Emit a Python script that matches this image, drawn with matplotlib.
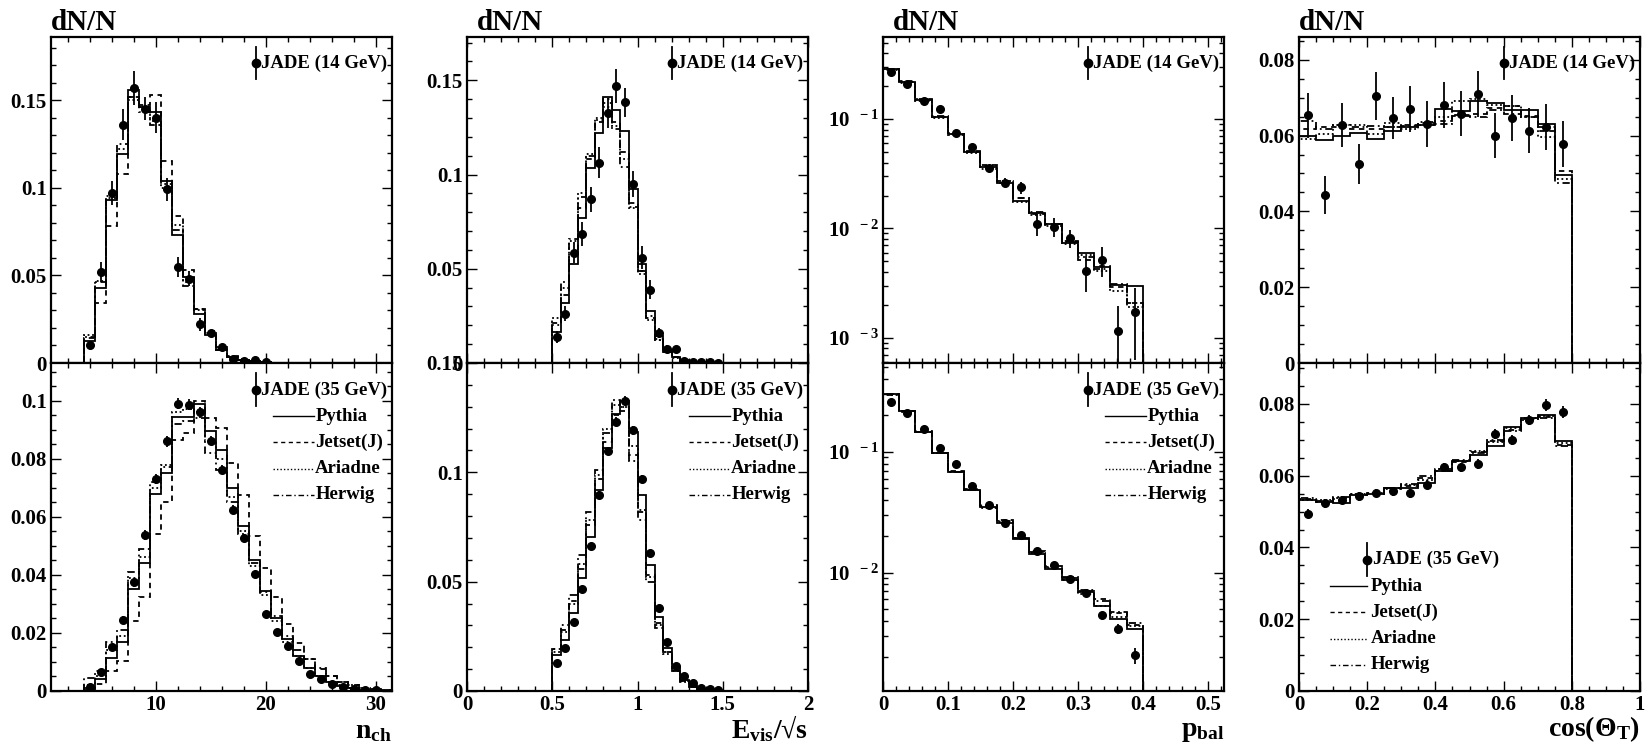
import numpy as np
import matplotlib
matplotlib.use("Agg")
import matplotlib.pyplot as plt
from matplotlib.ticker import MultipleLocator, FuncFormatter, LogLocator, NullFormatter

plt.rcParams['font.family'] = ['Liberation Serif', 'DejaVu Serif']
plt.rcParams['font.weight'] = 'bold'
plt.rcParams['mathtext.fontset'] = 'custom'
plt.rcParams['mathtext.rm'] = 'Liberation Serif:bold'
plt.rcParams['mathtext.it'] = 'Liberation Serif:bold'
plt.rcParams['mathtext.bf'] = 'Liberation Serif:bold'
plt.rcParams['mathtext.default'] = 'rm'

models = ['Pythia', 'Jetset(J)', 'Ariadne', 'Herwig']

# ---------------- n_ch ----------------
nch_edges14 = np.arange(3.5, 23.5, 1.0)
nch_pyth14 = [0.0123, 0.0426, 0.0928, 0.119, 0.156, 0.146, 0.143, 0.104, 0.073, 0.049,
              0.028, 0.016, 0.0076, 0.0034, 0.0019, 0.001, 0.0004, 0.0002, 0.0001]
nch_jet14 = [0.014, 0.034, 0.078, 0.108, 0.152, 0.147, 0.153, 0.115, 0.084, 0.053,
             0.031, 0.018, 0.009, 0.004, 0.002, 0.001, 0.0005, 0.0002, 0.0001]
nch_ari14 = [0.016, 0.047, 0.095, 0.122, 0.150, 0.146, 0.138, 0.100, 0.079, 0.046,
             0.030, 0.017, 0.008, 0.0035, 0.0018, 0.0009, 0.0004, 0.0002, 0.0001]
nch_her14 = [0.015, 0.046, 0.094, 0.125, 0.152, 0.143, 0.136, 0.102, 0.076, 0.044,
             0.031, 0.016, 0.0075, 0.0035, 0.0018, 0.0008, 0.0004, 0.0002, 0.0001]
nch_x14 = np.arange(4, 21)
nch_d14 = [0.0104, 0.052, 0.097, 0.136, 0.157, 0.145, 0.140, 0.099, 0.055, 0.048,
           0.022, 0.017, 0.009, 0.0025, 0.0013, 0.0015, 0.0008]
nch_e14 = [0.002, 0.0057, 0.0066, 0.0088, 0.0097, 0.0066, 0.009, 0.0063, 0.0057, 0.0043,
           0.0038, 0.002, 0.0015, 0.001, 0.0008, 0.0008, 0.0006]

nch_edges35 = np.arange(3.5, 32.5, 1.0)
nch_pyth35 = [0.001, 0.004, 0.0115, 0.017, 0.035, 0.044, 0.068, 0.075, 0.0945, 0.0943,
              0.099, 0.0896, 0.083, 0.0698, 0.057, 0.045, 0.0344, 0.025, 0.018, 0.012,
              0.008, 0.0053, 0.0032, 0.0018, 0.0009, 0.0005, 0.0002, 0.0001]
nch_jet35 = [0.0005, 0.0025, 0.007, 0.0105, 0.024, 0.0325, 0.054, 0.065, 0.0865, 0.089,
             0.1, 0.094, 0.0905, 0.0785, 0.0675, 0.0535, 0.0425, 0.0325, 0.023, 0.0165,
             0.011, 0.0075, 0.005, 0.003, 0.002, 0.001, 0.0006, 0.0003]
nch_ari35 = [0.002, 0.005, 0.014, 0.019, 0.039, 0.046, 0.07, 0.078, 0.096, 0.097,
             0.096, 0.086, 0.08, 0.067, 0.055, 0.043, 0.033, 0.024, 0.017, 0.012,
             0.008, 0.005, 0.003, 0.002, 0.001, 0.0005, 0.0002, 0.0001]
nch_her35 = [0.0045, 0.007, 0.017, 0.021, 0.041, 0.049, 0.072, 0.077, 0.092, 0.093,
             0.094, 0.082, 0.076, 0.065, 0.054, 0.044, 0.034, 0.026, 0.019, 0.014,
             0.011, 0.008, 0.005, 0.003, 0.002, 0.001, 0.0005, 0.0002]
nch_x35 = np.arange(4, 31)
nch_d35 = [0.0013, 0.0064, 0.0153, 0.0245, 0.0375, 0.0537, 0.073, 0.086, 0.099, 0.0987,
           0.096, 0.0863, 0.0763, 0.0625, 0.0526, 0.0403, 0.0264, 0.0204, 0.0156, 0.0102,
           0.0059, 0.004, 0.0023, 0.0015, 0.0006, 0.0003, 0.0002]
nch_e35 = [0.0005, 0.0008, 0.001, 0.0012, 0.0015, 0.0017, 0.0018, 0.0019, 0.0019, 0.0019,
           0.0018, 0.0017, 0.0016, 0.0015, 0.0014, 0.0012, 0.0011, 0.001, 0.0009, 0.0008,
           0.0006, 0.0005, 0.0004, 0.0003, 0.0002, 0.0002, 0.0001]

# ---------------- E_vis / sqrt(s) ----------------
evis_edges = np.linspace(0.5, 1.5, 21)
evis_x = np.linspace(0.525, 1.475, 20)
evis_pyth14 = [0.0167, 0.032, 0.0527, 0.0771, 0.1037, 0.1218, 0.141, 0.134, 0.1229, 0.0926,
               0.0527, 0.0278, 0.0145, 0.0071, 0.0032, 0.0014, 0.0007, 0.0004, 0.0002, 0.0001]
evis_jet14 = [0.021, 0.036, 0.058, 0.082, 0.108, 0.128, 0.138, 0.128, 0.112, 0.085,
              0.049, 0.024, 0.013, 0.006, 0.003, 0.0013, 0.0006, 0.0003, 0.0001, 0.0001]
evis_ari14 = [0.024, 0.040, 0.065, 0.090, 0.111, 0.130, 0.136, 0.126, 0.108, 0.082,
              0.047, 0.023, 0.012, 0.006, 0.0025, 0.0012, 0.0005, 0.0002, 0.0001, 0.0001]
evis_her14 = [0.020, 0.043, 0.066, 0.088, 0.110, 0.129, 0.140, 0.124, 0.104, 0.083,
              0.049, 0.025, 0.012, 0.006, 0.003, 0.0013, 0.0006, 0.0003, 0.0001, 0.0001]
evis_d14 = [0.0138, 0.0262, 0.0585, 0.0686, 0.0869, 0.1064, 0.1326, 0.1472, 0.1383, 0.0949,
            0.0559, 0.039, 0.016, 0.0074, 0.0074, 0.0009, 0.0005, 0.0005, 0.0004, 0.0001]
evis_e14 = [0.003, 0.004, 0.0055, 0.0064, 0.0066, 0.008, 0.008, 0.009, 0.0075, 0.007,
            0.006, 0.005, 0.0027, 0.002, 0.0015, 0.0005, 0.0005, 0.0005, 0.0004, 0.0001]

evis_pyth35 = [0.0166, 0.0232, 0.0357, 0.0518, 0.0706, 0.092, 0.1109, 0.1265, 0.1324, 0.1183,
               0.0897, 0.0577, 0.0339, 0.0196, 0.0104, 0.0051, 0.0023, 0.0009, 0.0003, 0.0001]
evis_jet35 = [0.019, 0.028, 0.041, 0.056, 0.076, 0.097, 0.114, 0.126, 0.128, 0.108,
              0.082, 0.053, 0.031, 0.018, 0.009, 0.0045, 0.002, 0.0008, 0.0003, 0.0001]
evis_ari35 = [0.018, 0.027, 0.040, 0.058, 0.078, 0.099, 0.120, 0.131, 0.130, 0.112,
              0.083, 0.052, 0.030, 0.017, 0.009, 0.004, 0.002, 0.0008, 0.0003, 0.0001]
evis_her35 = [0.019, 0.030, 0.044, 0.062, 0.082, 0.101, 0.118, 0.133, 0.130, 0.105,
              0.078, 0.050, 0.029, 0.018, 0.009, 0.0045, 0.002, 0.0008, 0.0003, 0.0001]
evis_d35 = [0.013, 0.0195, 0.0314, 0.0465, 0.0661, 0.0897, 0.1097, 0.1232, 0.1327, 0.1193,
            0.0968, 0.0629, 0.038, 0.0222, 0.0115, 0.0069, 0.0038, 0.0015, 0.0008, 0.0003]
evis_e35 = [0.0008, 0.001, 0.0012, 0.0014, 0.0016, 0.0018, 0.002, 0.002, 0.002, 0.002,
            0.0018, 0.0015, 0.0012, 0.001, 0.0008, 0.0006, 0.0005, 0.0003, 0.0002, 0.0001]

# ---------------- p_bal ----------------
pbal_edges = np.linspace(0.0, 0.4, 17)
pbal_x = np.linspace(0.0125, 0.3875, 16)
pbal_pyth14 = [0.286, 0.219, 0.149, 0.105, 0.0729, 0.0496, 0.0361, 0.0258, 0.0179, 0.0139,
               0.0109, 0.0073, 0.006, 0.0044, 0.00303, 0.00297]
pbal_jet14 = [0.284, 0.222, 0.151, 0.104, 0.074, 0.051, 0.038, 0.027, 0.0188, 0.0135,
              0.0107, 0.0076, 0.0052, 0.0045, 0.0029, 0.0021]
pbal_ari14 = [0.28, 0.215, 0.147, 0.103, 0.071, 0.049, 0.035, 0.026, 0.0175, 0.0132,
              0.0105, 0.0072, 0.0057, 0.0041, 0.0027, 0.0019]
pbal_her14 = [0.288, 0.22, 0.152, 0.106, 0.073, 0.05, 0.037, 0.027, 0.019, 0.014,
              0.011, 0.0075, 0.0055, 0.0043, 0.0031, 0.0021]
pbal_d14 = [0.271, 0.207, 0.147, 0.1225, 0.074, 0.0558, 0.0359, 0.0262, 0.0237, 0.011,
            0.0104, 0.0081, 0.0041, 0.0052, 0.00115, 0.00173]
pbal_e14 = [0.006, 0.006, 0.005, 0.005, 0.003, 0.003, 0.0025, 0.0025, 0.003, 0.0025,
            0.002, 0.0015, 0.0015, 0.0016, 0.0008, 0.0011]

pbal_pyth35 = [0.299, 0.217, 0.1465, 0.0969, 0.0674, 0.0481, 0.0346, 0.0255, 0.0189, 0.01436,
               0.0108, 0.00863, 0.00691, 0.00526, 0.00416, 0.00344]
pbal_jet35 = [0.296, 0.219, 0.148, 0.098, 0.069, 0.049, 0.036, 0.027, 0.0195, 0.0148,
              0.0112, 0.0090, 0.0070, 0.0060, 0.0046, 0.0037]
pbal_ari35 = [0.297, 0.215, 0.145, 0.097, 0.0685, 0.048, 0.0345, 0.026, 0.0192, 0.0145,
              0.011, 0.0087, 0.0067, 0.0053, 0.0043, 0.0036]
pbal_her35 = [0.301, 0.218, 0.147, 0.097, 0.0675, 0.0485, 0.0355, 0.0265, 0.0195, 0.015,
              0.0113, 0.0092, 0.0072, 0.0058, 0.0047, 0.0038]
pbal_d35 = [0.259, 0.21, 0.154, 0.108, 0.08, 0.0523, 0.0366, 0.0255, 0.0204, 0.0151,
            0.0116, 0.0088, 0.0068, 0.00443, 0.00343, 0.00206]
pbal_e35 = [0.006, 0.005, 0.004, 0.003, 0.002, 0.0015, 0.001, 0.0008, 0.0007, 0.0005,
            0.0004, 0.0004, 0.0003, 0.0003, 0.0003, 0.0003]

# ---------------- cos(theta_T) ----------------
cos_edges = np.linspace(0.0, 0.8, 17)
cos_x = np.linspace(0.025, 0.775, 16)
cos_pyth14 = [0.060, 0.0587, 0.060, 0.0607, 0.0591, 0.0611, 0.0622, 0.0627, 0.0671, 0.0665,
              0.069, 0.0687, 0.0668, 0.0668, 0.063, 0.0495]
cos_jet14 = [0.0618, 0.0623, 0.0623, 0.0617, 0.0617, 0.0623, 0.0628, 0.0632, 0.0638, 0.0653,
             0.0658, 0.0673, 0.0678, 0.0652, 0.0612, 0.0507]
cos_ari14 = [0.0592, 0.0603, 0.0628, 0.0628, 0.0605, 0.0632, 0.0617, 0.0628, 0.0648, 0.069,
             0.0696, 0.068, 0.0678, 0.0648, 0.0597, 0.0485]
cos_her14 = [0.0638, 0.0618, 0.0627, 0.0623, 0.0625, 0.0622, 0.0626, 0.0635, 0.063, 0.0651,
             0.065, 0.0668, 0.0658, 0.065, 0.0622, 0.0475]
cos_d14 = [0.0653, 0.0444, 0.0629, 0.0525, 0.0705, 0.0646, 0.067, 0.0631, 0.0681, 0.0658,
           0.0709, 0.060, 0.0646, 0.0613, 0.0622, 0.0578]
cos_e14 = [0.0059, 0.005, 0.0058, 0.0053, 0.0063, 0.0055, 0.006, 0.006, 0.006, 0.006,
           0.006, 0.006, 0.006, 0.006, 0.006, 0.006]

cos_pyth35 = [0.0531, 0.0528, 0.0523, 0.0546, 0.0549, 0.0566, 0.0566, 0.058, 0.0612, 0.0642,
              0.0658, 0.0683, 0.0736, 0.0762, 0.0769, 0.0697]
cos_jet35 = [0.0536, 0.0528, 0.0535, 0.0545, 0.0552, 0.0565, 0.0572, 0.0594, 0.0618, 0.0638,
             0.0665, 0.0697, 0.0728, 0.0755, 0.0763, 0.0686]
cos_ari35 = [0.0533, 0.0532, 0.0538, 0.0548, 0.0552, 0.0562, 0.0573, 0.0588, 0.0618, 0.064,
             0.0668, 0.0695, 0.0732, 0.0758, 0.0765, 0.069]
cos_her35 = [0.0538, 0.053, 0.054, 0.0549, 0.055, 0.0566, 0.0578, 0.0598, 0.0612, 0.0644,
             0.0662, 0.070, 0.0724, 0.0761, 0.076, 0.0682]
cos_d35 = [0.0494, 0.0523, 0.0532, 0.0542, 0.0552, 0.0556, 0.0551, 0.0575, 0.0623, 0.0623,
           0.0632, 0.0716, 0.0699, 0.0755, 0.0797, 0.0778]
cos_e35 = [0.0012, 0.0012, 0.0012, 0.0012, 0.0012, 0.0012, 0.0012, 0.0013, 0.0013, 0.0013,
           0.0014, 0.0014, 0.0014, 0.0015, 0.0016, 0.0016]

# line styles for the four generators
styles = ['-', (0, (3, 2.5)), (0, (1, 1.5)), (0, (4, 2, 1, 2))]
LW = 1.3
TICK_FS = 15
LEG_FS = 13.5


def fmt_lin(v, pos):
    return '%g' % round(v, 4)


def fmt_log(v, pos):
    e = int(round(np.log10(v)))
    return r'$10^{\ \ %d}$' % e


def draw(ax, edges, mc, x, y, err, log=False):
    base = 1e-7 if log else 0.0
    for vals, ls in zip(mc, styles):
        ax.stairs(vals, edges, baseline=base, color='k', lw=LW, linestyle=ls)
    ax.errorbar(x, y, yerr=err, fmt='o', color='k', ms=5.5, elinewidth=1.3, capsize=0)


def legend(ax, label, xm, ym, lx0=None, lx1=None, tx=None):
    # data entry: dot with a vertical bar
    ax.plot([xm, xm], [ym - 0.05, ym + 0.05], color='k', lw=1.3, transform=ax.transAxes)
    ax.plot([xm], [ym], 'o', color='k', ms=6, transform=ax.transAxes)
    ax.text(xm + 0.017, ym, label, transform=ax.transAxes, ha='left', va='center',
            fontsize=LEG_FS, fontweight='bold')
    if lx0 is None:
        return
    for i, (m, ls) in enumerate(zip(models, styles)):
        yy = ym - 0.080 * (i + 1)
        ax.plot([lx0, lx1], [yy, yy], color='k', lw=1.0, linestyle=ls,
                transform=ax.transAxes)
        ax.text(tx, yy, m, transform=ax.transAxes, ha='left', va='center',
                fontsize=LEG_FS, fontweight='bold')


fig = plt.figure(figsize=(16.5, 7.47), dpi=100)
W, H = 1650.0, 747.0
lefts = [51, 467, 883, 1299]
aw = 341 / W
top_b, top_h = 1 - 363 / H, (363 - 37) / H
bot_b, bot_h = 1 - 691 / H, (691 - 363) / H

panels = [
    dict(edges14=nch_edges14, mc14=[nch_pyth14, nch_jet14, nch_ari14, nch_her14],
         x14=nch_x14, d14=nch_d14, e14=nch_e14,
         edges35=nch_edges35, mc35=[nch_pyth35, nch_jet35, nch_ari35, nch_her35],
         x35=nch_x35, d35=nch_d35, e35=nch_e35,
         xlim=(0.5, 31.5), xmaj=10, xmin=2, ylim14=(0, 0.186), ylim35=(0, 0.113),
         ymaj14=0.05, ymin14=0.01, ymaj35=0.02, ymin35=0.005, log=False,
         xlabel=r'$n_{ch}$', dnx=0.0),
    dict(edges14=evis_edges, mc14=[evis_pyth14, evis_jet14, evis_ari14, evis_her14],
         x14=evis_x, d14=evis_d14, e14=evis_e14,
         edges35=evis_edges, mc35=[evis_pyth35, evis_jet35, evis_ari35, evis_her35],
         x35=evis_x, d35=evis_d35, e35=evis_e35,
         xlim=(0, 2), xmaj=0.5, xmin=0.1, ylim14=(0, 0.173), ylim35=(0, 0.15),
         ymaj14=0.05, ymin14=0.01, ymaj35=0.05, ymin35=0.01, log=False,
         xlabel=r'$E_{vis}$/√s', dnx=0.028),
    dict(edges14=pbal_edges, mc14=[pbal_pyth14, pbal_jet14, pbal_ari14, pbal_her14],
         x14=pbal_x, d14=pbal_d14, e14=pbal_e14,
         edges35=pbal_edges, mc35=[pbal_pyth35, pbal_jet35, pbal_ari35, pbal_her35],
         x35=pbal_x, d35=pbal_d35, e35=pbal_e35,
         xlim=(0, 0.525), xmaj=0.1, xmin=0.02, ylim14=(10 ** -3.23, 10 ** -0.25),
         ylim35=(10 ** -2.98, 10 ** -0.265), log=True,
         xlabel=r'$p_{bal}$', dnx=0.028),
    dict(edges14=cos_edges, mc14=[cos_pyth14, cos_jet14, cos_ari14, cos_her14],
         x14=cos_x, d14=cos_d14, e14=cos_e14,
         edges35=cos_edges, mc35=[cos_pyth35, cos_jet35, cos_ari35, cos_her35],
         x35=cos_x, d35=cos_d35, e35=cos_e35,
         xlim=(0, 1), xmaj=0.2, xmin=0.05, ylim14=(0, 0.086), ylim35=(0, 0.0914),
         ymaj14=0.02, ymin14=0.005, ymaj35=0.02, ymin35=0.005, log=False,
         xlabel=r'$cos(\Theta_T)$', dnx=0.0),
]

for i, p in enumerate(panels):
    l = lefts[i] / W
    axt = fig.add_axes([l, top_b, aw, top_h])
    axb = fig.add_axes([l, bot_b, aw, bot_h], sharex=axt)
    draw(axt, p['edges14'], p['mc14'], p['x14'], p['d14'], p['e14'], p['log'])
    draw(axb, p['edges35'], p['mc35'], p['x35'], p['d35'], p['e35'], p['log'])
    for ax, tag in ((axt, '14'), (axb, '35')):
        ax.set_xlim(*p['xlim'])
        ax.xaxis.set_major_locator(MultipleLocator(p['xmaj']))
        ax.xaxis.set_minor_locator(MultipleLocator(p['xmin']))
        ax.xaxis.set_major_formatter(FuncFormatter(fmt_lin))
        if p['log']:
            ax.set_yscale('log')
            ax.yaxis.set_major_locator(LogLocator(base=10))
            ax.yaxis.set_minor_locator(LogLocator(base=10, subs=np.arange(2, 10)))
            ax.yaxis.set_major_formatter(FuncFormatter(fmt_log))
            ax.yaxis.set_minor_formatter(NullFormatter())
        else:
            ax.yaxis.set_major_locator(MultipleLocator(p['ymaj' + tag]))
            ax.yaxis.set_minor_locator(MultipleLocator(p['ymin' + tag]))
            ax.yaxis.set_major_formatter(FuncFormatter(fmt_lin))
        ax.set_ylim(*p['ylim' + tag])
        ax.tick_params(which='both', direction='in', top=True, right=True, width=1.0,
                       labelsize=TICK_FS, pad=3)
        ax.tick_params(which='major', length=7)
        ax.tick_params(which='minor', length=3.5)
        for s in ax.spines.values():
            s.set_linewidth(1.6)
    axt.tick_params(labelbottom=False)
    legend(axt, 'JADE (14 GeV)', 0.60, 0.92)
    if i == 3:
        legend(axb, 'JADE (35 GeV)', 0.20, 0.40, 0.09, 0.20, 0.21)
    else:
        legend(axb, 'JADE (35 GeV)', 0.60, 0.918, 0.65, 0.77, 0.775)
    fig.text(l + aw, 3 / H, p['xlabel'], ha='right', va='bottom',
             fontsize=20, fontweight='bold')
    fig.text(l + p['dnx'] * aw, 1 - 30 / H, 'dN/N', ha='left', va='baseline',
             fontsize=21, fontweight='bold')

fig.savefig('out.png', dpi=100)
